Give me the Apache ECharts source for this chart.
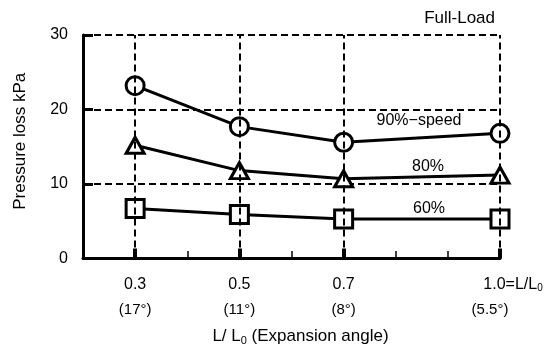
<!DOCTYPE html>
<html>
<head>
<meta charset="utf-8">
<title>Pressure loss</title>
<script src="https://cdn.jsdelivr.net/npm/echarts@6/dist/echarts.min.js"></script>
<style>
  html, body { margin: 0; padding: 0; background: #fff; }
  #main { width: 549px; height: 351px; }
</style>
</head>
<body>
<div id="main"></div>
<script>
// L/L0 positions and the matching expansion angles
var ratios = [0.3, 0.5, 0.7, 1.0];
var angles = ['17°', '11°', '8°', '5.5°'];
var minorTicks = [0.4, 0.6, 0.8, 0.9];

// pressure loss kPa
var speed90 = [23.2, 17.7, 15.6, 16.8];
var speed80 = [15.2, 11.8, 10.7, 11.2];
var speed60 = [6.7, 5.9, 5.3, 5.3];

var FONT = "'Liberation Sans', Arial, sans-serif";

function pairs(vals) {
  return ratios.map(function (x, i) { return [x, vals[i]]; });
}

function note(txt, pos) {
  return Object.assign({
    type: 'text',
    style: {
      text: txt, fontSize: 16, fontFamily: FONT, fill: '#000',
      align: 'center', verticalAlign: 'middle'
    }
  }, pos);
}

var chartDom = document.getElementById('main');
var myChart = echarts.init(chartDom);

var lineCommon = {
  type: 'line',
  z: 3,
  animation: false,
  showAllSymbol: true,
  lineStyle: { color: '#000', width: 3 },
  itemStyle: { color: '#fff', borderColor: '#000', borderWidth: 3 }
};

var option = {
  backgroundColor: '#fff',
  animation: false,
  grid: { left: 83, right: 49, top: 35, bottom: 91 },
  xAxis: {
    type: 'value',
    min: 0.2,
    max: 1.0,
    name: '{t|L/ L}{s|0}{t| (Expansion angle)}',
    nameLocation: 'middle',
    nameGap: 68,
    nameTextStyle: {
      padding: [0, 0, 0, 18],
      rich: {
        t: { fontFamily: FONT, fontSize: 17, color: '#000', lineHeight: 20 },
        s: { fontFamily: FONT, fontSize: 11, color: '#000', lineHeight: 20, padding: [8, 0, 0, 0] }
      }
    },
    axisLine: { show: true, lineStyle: { color: '#000', width: 3 } },
    axisTick: {
      show: true,
      customValues: ratios,
      inside: true,
      length: 10,
      lineStyle: { color: '#000', width: 4 }
    },
    axisLabel: {
      customValues: ratios,
      margin: 16,
      formatter: function (v) {
        var i = ratios.indexOf(v);
        if (i < 0) return '';
        if (i === ratios.length - 1) {
          return '{vl|1.0=L/L}{sub|0}\n{al|(' + angles[i] + ')}';
        }
        return '{v|' + v.toFixed(1) + '}\n{a|(' + angles[i] + ')}';
      },
      rich: {
        v: { fontFamily: FONT, fontSize: 16, color: '#000', lineHeight: 20 },
        a: { fontFamily: FONT, fontSize: 15, color: '#000', lineHeight: 30 },
        vl: { fontFamily: FONT, fontSize: 16, color: '#000', lineHeight: 20, padding: [0, 0, 0, 26] },
        sub: { fontFamily: FONT, fontSize: 10, color: '#000', lineHeight: 20, padding: [7, 0, 0, 0] },
        al: { fontFamily: FONT, fontSize: 15, color: '#000', lineHeight: 30, padding: [0, 20, 0, 0] }
      }
    },
    splitLine: { show: false }
  },
  yAxis: {
    type: 'value',
    min: 0,
    max: 30,
    interval: 10,
    name: 'Pressure loss kPa',
    nameLocation: 'middle',
    nameGap: 54,
    nameTextStyle: { fontFamily: FONT, fontSize: 17, color: '#000', padding: [0, 0, 0, 11] },
    axisLine: { show: true, lineStyle: { color: '#000', width: 3 } },
    axisTick: { show: true, inside: true, length: 10, lineStyle: { color: '#000', width: 3 } },
    axisLabel: { fontFamily: FONT, fontSize: 16, color: '#000', margin: 15 },
    splitLine: { show: true, lineStyle: { color: '#000', width: 2, type: [7, 4] } }
  },
  graphic: [
    {
      type: 'text', right: 54, top: 10,
      style: { text: 'Full-Load', fontSize: 17, fontFamily: FONT, fill: '#000' }
    },
    note('90%−speed', { x: 419, y: 121 }),
    note('80%', { x: 428, y: 167 }),
    note('60%', { x: 429, y: 209 })
  ],
  series: [
    {
      // vertical dashed guide lines
      type: 'line',
      data: [],
      z: 1,
      silent: true,
      markLine: {
        silent: true,
        symbol: ['none', 'none'],
        label: { show: false },
        animation: false,
        lineStyle: { color: '#000', width: 2, type: [7, 4] },
        data: ratios.map(function (x) { return { xAxis: x }; })
      }
    },
    {
      // thin minor ticks along the bottom axis
      type: 'line',
      data: [],
      z: 2,
      silent: true,
      markLine: {
        silent: true,
        symbol: ['none', 'none'],
        label: { show: false },
        animation: false,
        lineStyle: { color: '#000', width: 1.5, type: 'solid' },
        data: minorTicks.map(function (x) { return [{ coord: [x, 0] }, { coord: [x, 1] }]; })
      }
    },
    Object.assign({}, lineCommon, { name: '90%-speed', symbol: 'circle', symbolSize: 18, data: pairs(speed90) }),
    Object.assign({}, lineCommon, { name: '80%', symbol: 'triangle', symbolSize: [18, 16], data: pairs(speed80) }),
    Object.assign({}, lineCommon, { name: '60%', symbol: 'rect', symbolSize: 18, data: pairs(speed60) })
  ]
};

myChart.setOption(option);
</script>
</body>
</html>
